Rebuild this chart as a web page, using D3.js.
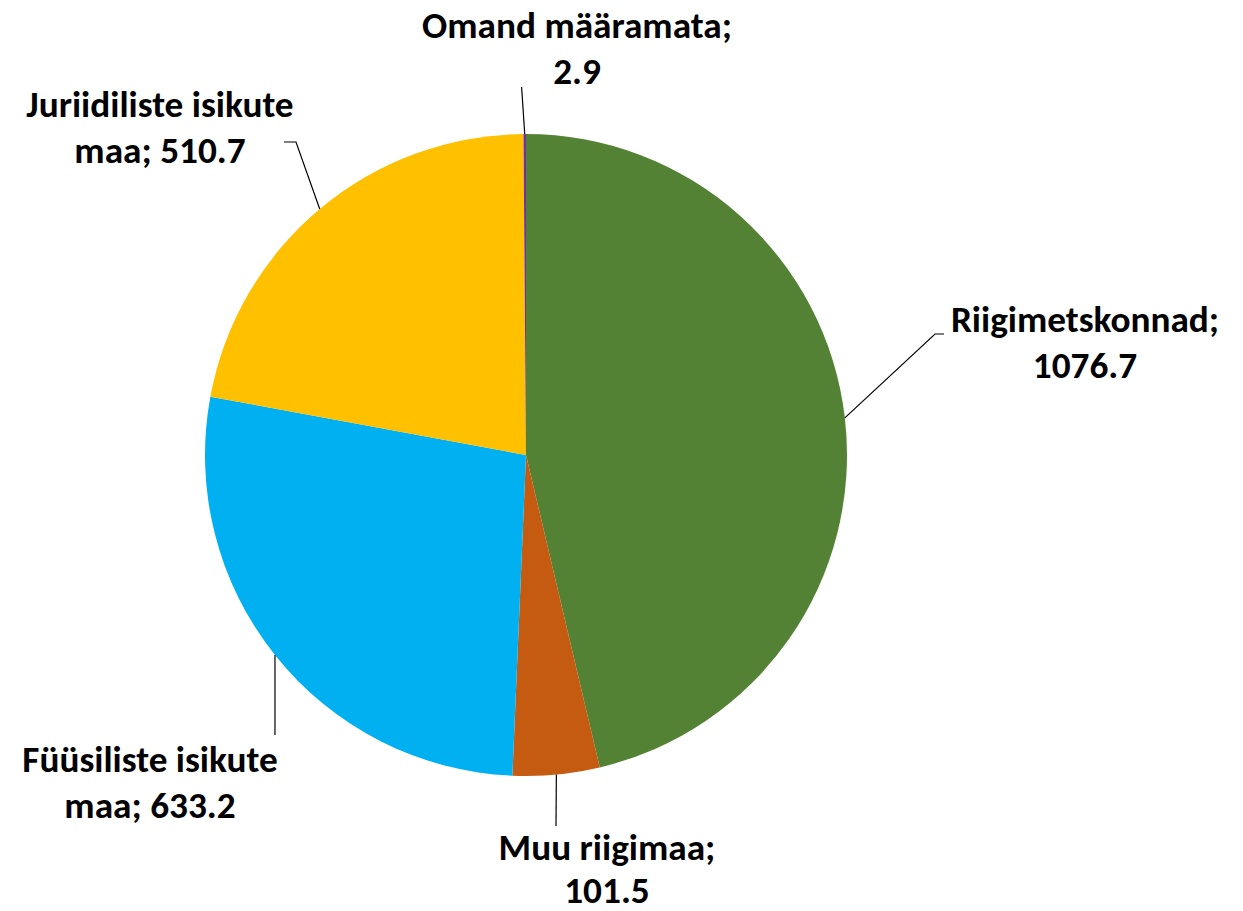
<!DOCTYPE html>
<html><head><meta charset="utf-8">
<script src="https://cdn.jsdelivr.net/npm/d3@7"></script>
<style>html,body{margin:0;padding:0;background:#fff}</style>
</head><body>
<svg id="c" width="1243" height="911"></svg>
<script>
const categories = ["Riigimetskonnad", "Muu riigimaa", "Füüsiliste isikute maa", "Juriidiliste isikute maa", "Omand määramata"];
const values = [1076.7, 101.5, 633.2, 510.7, 2.9];
const colors = ["#548235", "#C55A11", "#00B0F0", "#FFC000", "#7030A0"];
const labelLines = [
  ["Riigimetskonnad;", "1076.7"],
  ["Muu riigimaa;", "101.5"],
  ["Füüsiliste isikute", "maa; 633.2"],
  ["Juriidiliste isikute", "maa; 510.7"],
  ["Omand määramata;", "2.9"]
];

const svg = d3.select("#c");
const cx = 526, cy = 455, R = 321;
const g = svg.append("g").attr("transform", `translate(${cx},${cy})`);
const pie = d3.pie().sort(null).value(d => d)(values);
const arc = d3.arc().innerRadius(0).outerRadius(R);
g.selectAll("path.slice").data(pie).enter().append("path")
  .attr("d", arc).attr("fill", (d, i) => colors[i]);

// layout: label centre x, first baseline y, line gap, leader-line elbow points
const layout = [
  {x: 1085, y: 332, gap: 45.5, leader: [[935, 334], [944, 334]]},
  {x: 607, y: 860, gap: 43, leader: [[556, 826]]},
  {x: 150, y: 772, gap: 45.5, leader: [[275, 735]]},
  {x: 160, y: 117, gap: 45.5, leader: [[296, 142], [284, 142]]},
  {x: 577, y: 38, gap: 45.5, leader: [[521.6, 87]]}
];
const edge = d => {
  const a = (d.startAngle + d.endAngle) / 2;
  return [cx + R * Math.sin(a), cy - R * Math.cos(a)];
};
pie.forEach((d, i) => {
  const pts = [edge(d)].concat(layout[i].leader);
  svg.append("path").attr("d", d3.line()(pts))
    .attr("fill", "none").attr("stroke", "#000").attr("stroke-width", 1.2);
});

const fontFamily = "Carlito, Calibri, Lato, 'Open Sans', sans-serif";
const probe = svg.append("text").attr("font-family", fontFamily).attr("font-weight", "bold")
  .attr("font-size", 100).text("Omand määramata;");
const w = probe.node().getComputedTextLength();
probe.remove();
const fs = 100 * 310 / w;

labelLines.forEach((lines, i) => {
  const t = svg.append("text").attr("font-family", fontFamily).attr("font-weight", "bold")
    .attr("font-size", fs).attr("text-anchor", "middle").attr("fill", "#000");
  lines.forEach((ln, j) => {
    t.append("tspan").attr("x", layout[i].x).attr("y", layout[i].y + j * layout[i].gap).text(ln);
  });
});
</script>
</body></html>
